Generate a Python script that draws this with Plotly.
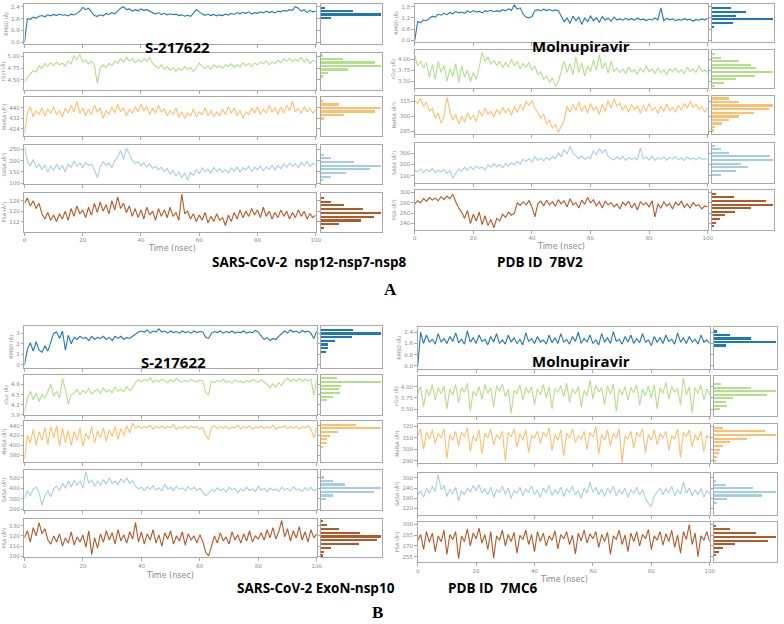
import numpy as np
import plotly.graph_objects as go

# ---------------- data: time series (~1 per ns) ----------------
# Panel A, left  (S-217622, nsp12-nsp7-nsp8)
RMSD_A1 = [0.0, 1.6, 1.55, 1.7, 1.62, 1.75, 1.8, 1.72, 1.85, 1.78, 1.88, 1.8, 1.9, 1.82, 1.86, 1.78, 1.9, 1.84, 1.95, 2.1,
           2.35, 2.2, 2.3, 2.05, 1.8, 1.75, 1.85, 1.78, 1.95, 1.88, 2.0, 1.92, 2.1, 2.3, 2.4, 2.2, 2.25, 2.1, 2.2, 2.12,
           2.25, 2.15, 2.2, 2.1, 1.95, 1.9, 2.0, 1.88, 1.95, 1.85, 1.92, 1.86, 1.9, 1.8, 1.85, 1.76, 1.82, 1.75, 1.95, 2.2,
           2.05, 1.9, 1.82, 1.9, 1.8, 1.88, 1.78, 1.85, 1.8, 1.9, 1.83, 1.95, 1.88, 2.0, 1.92, 2.02, 1.95, 2.05, 1.9, 2.0,
           1.95, 2.05, 1.98, 2.1, 2.0, 2.08, 1.98, 2.1, 2.05, 2.15, 2.1, 2.2, 2.15, 2.4, 2.3, 2.1, 2.2, 2.0, 2.15, 2.05, 2.1]
RGYR_A1 = [4.45, 4.55, 4.62, 4.7, 4.66, 4.8, 4.74, 4.85, 4.78, 4.86, 4.8, 4.88, 4.82, 4.86, 4.79, 4.9, 4.84, 5.02, 4.92, 5.05,
           4.88, 4.92, 4.84, 4.9, 4.82, 4.42, 4.75, 4.82, 4.76, 4.85, 4.8, 4.9, 4.85, 4.95, 4.88, 4.98, 4.9, 4.95, 4.86, 4.93,
           4.88, 4.96, 4.9, 4.98, 4.85, 4.8, 4.74, 4.82, 4.72, 4.78, 4.7, 4.76, 4.68, 4.74, 4.7, 4.78, 4.72, 4.76, 4.68, 4.75,
           4.86, 4.78, 4.74, 4.8, 4.72, 4.82, 4.76, 4.8, 4.74, 4.82, 4.78, 4.84, 4.76, 4.82, 4.78, 4.86, 4.8, 4.85, 4.78, 4.86,
           4.82, 4.88, 4.84, 4.9, 4.82, 4.88, 4.84, 4.92, 4.86, 4.95, 4.9, 4.96, 4.88, 4.94, 4.9, 4.98, 4.88, 4.95, 4.85, 4.92, 4.88]
MOLSA_A1 = [420, 436, 441, 433, 438, 435, 440, 434, 439, 436, 441, 435, 438, 433, 440, 436, 442, 437, 445, 436,
            440, 434, 439, 435, 442, 437, 440, 432, 438, 435, 441, 436, 443, 437, 440, 434, 439, 436, 441, 437,
            443, 438, 441, 435, 440, 436, 442, 437, 439, 434, 438, 435, 440, 433, 437, 432, 436, 434, 439, 433,
            437, 435, 440, 434, 438, 433, 437, 434, 439, 435, 441, 436, 440, 434, 438, 432, 437, 435, 440, 436,
            441, 435, 439, 436, 442, 437, 440, 435, 441, 436, 442, 438, 445, 437, 440, 436, 441, 437, 440, 436, 439]
SASA_A1 = [262, 195, 178, 205, 170, 185, 160, 180, 150, 175, 158, 182, 162, 178, 150, 185, 170, 198, 175, 190,
           168, 192, 178, 185, 160, 125, 172, 195, 178, 190, 170, 200, 215, 245, 205, 255, 230, 200, 188, 195,
           178, 190, 172, 185, 165, 175, 160, 170, 152, 165, 140, 155, 132, 150, 125, 145, 115, 148, 135, 160,
           142, 168, 150, 162, 145, 170, 152, 165, 148, 160, 145, 168, 155, 172, 150, 168, 158, 175, 152, 170,
           160, 175, 155, 172, 162, 180, 160, 178, 165, 185, 170, 190, 175, 185, 170, 192, 178, 195, 175, 188, 180]
PSA_A1 = [126, 130, 124, 128, 122, 126, 118, 114, 119, 113, 117, 112, 118, 114, 120, 113, 122, 116, 124, 118,
          121, 115, 123, 117, 126, 119, 127, 120, 125, 118, 128, 121, 131, 122, 126, 119, 124, 116, 122, 115,
          121, 114, 123, 117, 120, 113, 122, 116, 121, 115, 123, 116, 119, 113, 133, 118, 120, 114, 118, 112,
          117, 113, 119, 111, 116, 112, 118, 113, 115, 109, 117, 112, 119, 114, 121, 115, 120, 116, 122, 117,
          121, 115, 123, 116, 120, 114, 119, 115, 121, 116, 120, 114, 119, 115, 121, 116, 120, 114, 118, 115, 117]

# Panel A, right (Molnupiravir, PDB 7BV2)
RMSD_A2 = [0.0, 1.0, 0.95, 1.1, 1.05, 1.2, 1.3, 1.25, 1.4, 1.35, 1.45, 1.38, 1.5, 1.42, 1.55, 1.48, 1.52, 1.45, 1.58, 1.5,
           1.6, 1.52, 1.56, 1.48, 1.6, 1.55, 1.62, 1.54, 1.6, 1.55, 1.65, 1.58, 1.7, 1.62, 1.9, 1.68, 1.75, 1.4, 1.25, 1.2,
           1.28, 1.6, 1.65, 1.58, 1.68, 1.6, 1.66, 1.58, 1.64, 1.6, 1.3, 1.0, 1.2, 0.9, 1.3, 1.05, 1.25, 0.85, 1.2, 1.0,
           1.3, 1.05, 1.22, 0.95, 1.28, 1.08, 1.2, 1.02, 1.25, 1.1, 1.15, 1.08, 1.18, 1.1, 1.16, 1.08, 1.2, 1.1, 1.15, 1.06,
           1.14, 1.08, 1.2, 1.1, 1.75, 1.05, 1.18, 1.1, 1.15, 1.05, 1.12, 1.08, 1.16, 1.1, 1.14, 1.02, 1.12, 1.08, 1.15, 1.1, 1.18]
RGYR_A2 = [4.08, 3.85, 3.95, 3.8, 3.92, 3.6, 3.88, 3.55, 3.95, 3.7, 3.85, 3.5, 3.78, 3.62, 3.9, 3.48, 3.85, 3.6, 3.75, 3.5,
           3.7, 3.55, 3.82, 4.15, 3.95, 4.05, 3.88, 3.98, 3.85, 3.95, 3.8, 3.92, 3.82, 4.0, 3.85, 3.95, 3.78, 3.9, 3.82, 3.92,
           3.75, 3.85, 3.65, 3.72, 3.55, 3.62, 3.48, 3.58, 3.39, 3.5, 3.72, 3.95, 3.7, 3.9, 3.65, 4.05, 3.7, 3.92, 3.62, 3.85,
           3.72, 3.98, 3.75, 4.1, 3.78, 3.92, 3.68, 3.95, 3.72, 3.8, 3.7, 3.78, 3.68, 3.82, 3.72, 3.76, 3.66, 3.8, 3.7, 3.85,
           3.72, 3.78, 3.68, 3.8, 3.7, 3.76, 3.66, 3.78, 3.72, 3.8, 3.7, 3.76, 3.68, 3.82, 3.72, 3.78, 3.7, 3.86, 3.72, 3.76, 3.7]
MOLSA_A2 = [316, 313, 318, 310, 314, 305, 308, 298, 303, 293, 300, 319, 305, 296, 302, 292, 300, 294, 303, 297,
            301, 295, 306, 300, 308, 302, 305, 299, 307, 302, 309, 303, 308, 301, 310, 304, 312, 306, 315, 311,
            316, 308, 304, 298, 302, 292, 296, 288, 292, 284, 290, 296, 310, 304, 312, 306, 314, 305, 311, 303,
            313, 306, 310, 302, 312, 305, 316, 308, 318, 310, 313, 306, 311, 304, 312, 307, 310, 303, 311, 305,
            313, 306, 309, 303, 310, 305, 312, 306, 309, 304, 311, 306, 313, 308, 315, 309, 312, 307, 310, 304, 309]
SASA_A2 = [150, 135, 160, 130, 155, 140, 165, 128, 150, 135, 158, 120, 145, 80, 120, 160, 140, 175, 150, 180,
           155, 185, 165, 178, 150, 195, 175, 205, 180, 200, 170, 210, 185, 215, 195, 225, 205, 245, 225, 250,
           220, 265, 235, 255, 230, 260, 240, 270, 250, 300, 270, 330, 290, 360, 300, 270, 250, 275, 245, 265,
           255, 320, 285, 340, 300, 330, 270, 255, 240, 265, 245, 270, 235, 260, 245, 255, 240, 345, 250, 265,
           240, 270, 235, 260, 245, 268, 238, 262, 248, 270, 240, 258, 235, 265, 245, 255, 238, 262, 245, 250, 248]
PSA_A2 = [278, 284, 280, 288, 283, 290, 285, 289, 284, 292, 286, 293, 288, 296, 282, 270, 262, 250, 265, 240,
          258, 245, 262, 238, 255, 236, 248, 232, 250, 245, 258, 252, 262, 256, 260, 280, 275, 282, 276, 284,
          272, 253, 278, 283, 274, 285, 276, 282, 273, 286, 278, 284, 272, 288, 276, 280, 270, 285, 277, 290,
          280, 286, 274, 282, 270, 283, 276, 280, 272, 278, 268, 281, 275, 283, 270, 279, 266, 282, 276, 280,
          272, 284, 253, 278, 270, 282, 274, 279, 268, 281, 275, 283, 271, 278, 270, 280, 274, 276, 268, 274, 272]

# Panel B, left (S-217622, ExoN-nsp10)
RMSD_B1 = [0.0, 1.5, 2.1, 1.3, 2.2, 1.4, 1.2, 1.8, 1.3, 2.1, 3.0, 3.1, 2.5, 3.2, 1.4, 2.8, 2.0,
           2.6, 2.4, 2.7, 2.5, 2.6, 2.3, 2.7, 2.4, 2.6, 2.5, 2.7, 2.4, 2.6, 2.3, 2.7, 2.5, 2.7, 2.4, 2.6, 2.5,
           2.7, 2.9, 3.1, 3.2,
           3.1, 3.3, 3.0, 3.2, 3.1, 3.4, 3.1, 3.2, 3.0, 3.2, 3.05, 3.15, 3.0, 3.2, 3.05, 3.15, 3.0, 3.2, 3.05, 3.15, 3.1,
           2.6, 2.5,
           3.0, 3.15, 3.05, 3.2, 3.0, 3.15, 3.05, 3.2, 3.0, 3.1, 3.05, 3.2, 3.0, 3.1, 3.05, 3.25, 3.1,
           2.7, 2.4, 2.6, 2.3, 2.5, 2.4, 2.7,
           3.0, 3.2, 3.0, 3.3, 3.1, 3.2, 3.0, 3.25, 3.1, 3.2, 3.0, 2.5, 3.2]
RGYR_B1 = [3.98, 4.4, 4.6, 4.35, 4.55, 4.3, 4.5, 4.4, 4.6, 4.8, 4.45, 4.6, 4.4, 4.98, 4.65, 4.22, 4.5,
           4.55, 4.65, 4.5, 4.62, 4.55, 4.68, 4.52, 4.6, 4.66, 4.54, 4.7, 4.58, 4.64, 4.55, 4.72, 4.6, 4.66, 4.58,
           4.74, 4.62, 4.7, 4.85, 4.95,
           4.88, 4.95, 4.9, 5.0, 4.86, 4.93, 4.88, 4.96, 4.9, 4.85, 4.94, 4.88, 4.98, 4.9, 4.86, 4.92, 4.88, 4.95,
           4.9, 4.87, 4.93, 4.9, 4.55, 4.5,
           4.9, 4.85, 4.92, 4.88, 4.95, 4.86, 4.9, 4.84, 4.93, 4.88, 4.9, 4.85, 4.92, 4.87, 4.95, 4.9, 4.86, 4.94, 4.88,
           4.8, 4.7, 4.82, 4.72, 4.85, 4.76,
           4.92, 4.98, 4.88, 4.95, 4.9, 4.97, 4.88, 4.96, 4.9, 4.95, 4.48, 4.95]
MOLSA_B1 = [372, 420, 405, 432, 400, 428, 410, 436, 402, 438, 415, 440, 398, 435, 405, 430,
            400, 428, 410, 435, 398, 425, 412, 438, 405, 430, 415, 436, 408, 432, 418, 438, 412, 434, 420, 440, 425, 445,
            435, 440, 434, 438, 436, 441, 433, 439, 435, 440, 434, 438, 436, 442, 433, 437, 435, 440, 434, 439, 436, 438,
            433, 437, 420, 412,
            436, 440, 434, 438, 435, 439, 433, 437, 436, 441, 434, 438, 435, 440, 433, 437, 436, 439, 434, 438, 435, 441,
            433, 437, 436, 440, 434, 438, 435, 439, 433, 438, 436, 440, 434, 415, 437]
SASA_B1 = [300, 380, 330, 395, 410, 360, 240, 330, 380, 320, 395,
           420, 380, 450, 400, 470, 410, 480, 430, 470, 400, 556, 450, 480, 420, 470, 430,
           480, 440, 500, 450, 470, 435, 490, 455, 500, 445, 470,
           420, 395, 410, 380, 415, 390, 425, 385, 405, 375, 440, 395, 410, 380, 420, 390, 405, 378, 415, 388, 410, 380, 400,
           360, 330, 355,
           390, 370, 405, 380, 395, 365, 410, 385, 400, 360, 395, 375, 410, 380, 395, 370, 420, 385, 400, 365, 405, 380,
           395, 370, 410, 385, 400, 375, 415, 385, 395, 370, 405, 380, 410, 375, 395]
PSA_B1 = [118, 125, 114, 128, 120, 133, 122, 127, 116,
          112, 120, 114, 122, 110, 118, 113, 124, 111, 119, 114, 121,
          109, 125, 102, 118, 108,
          122, 114, 125, 116, 123, 112, 126, 115, 121, 113, 124, 117, 133,
          114, 124, 112, 122, 116, 126, 113, 121, 110, 123, 117, 125, 112, 120, 115, 124, 111, 122, 116, 120, 113, 121, 115,
          104, 100.5,
          110, 120, 113, 123, 115, 119, 112, 124, 116, 121, 113, 122, 115, 125, 114, 120, 117, 123,
          116, 126, 118, 128, 117, 124, 135, 119, 127, 115, 125, 118, 129, 116, 124, 114, 126, 118, 122]

# Panel B, right (Molnupiravir, PDB 7MC6)
RMSD_B2 = [0.0, 2.4, 1.6, 2.2, 1.7, 1.9, 1.55, 2.3, 1.7, 1.95, 1.6, 2.1, 1.75, 2.35, 1.65, 1.9, 1.55, 2.5, 1.7, 2.0,
           1.6, 2.2, 1.75, 1.9, 1.5, 2.1, 1.7, 2.3, 1.6, 1.85, 1.55, 2.2, 1.7, 2.0, 1.6, 1.9, 1.5, 2.35, 1.75, 1.95,
           1.6, 2.1, 1.7, 1.85, 1.55, 2.2, 1.65, 2.0, 1.6, 2.3, 1.7, 1.9, 1.55, 2.1, 1.75, 2.4, 1.6, 1.95, 1.7, 2.2,
           1.6, 1.85, 1.5, 2.3, 1.7, 2.0, 1.6, 2.45, 1.75, 1.9, 1.55, 2.1, 1.7, 2.2, 1.6, 1.95, 1.65, 2.3, 1.7, 1.85,
           1.45, 2.1, 1.7, 2.0, 1.6, 2.2, 1.75, 1.9, 1.55, 2.35, 1.7, 2.0, 1.6, 2.1, 1.7, 1.9, 1.55, 2.2, 1.7, 1.85, 1.6]
RGYR_B2 = [3.85, 4.0, 3.55, 3.95, 3.8, 4.05, 3.7, 3.98, 3.85, 4.02, 3.5, 3.95, 3.82, 4.05, 3.65, 3.98, 3.88, 4.08, 3.45, 3.9,
           3.8, 4.0, 3.72, 4.05, 3.85, 3.98, 3.55, 4.02, 3.9, 4.06, 3.78, 3.95, 3.4, 3.92, 3.85, 4.04, 3.7, 3.98, 3.86, 4.0,
           3.6, 3.95, 3.82, 4.05, 3.75, 4.0, 3.5, 3.96, 3.88, 4.02, 3.78, 4.08, 3.65, 3.95, 3.85, 4.0, 3.55, 3.92, 3.8, 4.15,
           3.72, 4.04, 3.88, 3.98, 3.6, 4.02, 3.84, 4.06, 3.45, 3.95, 3.82, 4.0, 3.7, 3.98, 3.86, 4.04, 3.58, 3.95, 3.8, 4.02,
           3.75, 4.05, 3.5, 3.98, 3.85, 4.1, 3.72, 4.0, 3.88, 3.96, 3.6, 4.2, 3.82, 4.0, 3.42, 3.98, 3.85, 4.04, 3.7, 3.95, 3.82]
MOLSA_B2 = [312, 318, 300, 315, 309, 317, 305, 314, 310, 318, 292, 313, 308, 316, 303, 315, 311, 319, 298, 312,
            307, 317, 296, 314, 310, 318, 304, 313, 309, 316, 290, 315, 311, 318, 302, 314, 308, 317, 297, 312,
            310, 316, 305, 315, 311, 319, 299, 313, 308, 317, 294, 314, 310, 318, 306, 312, 309, 316, 300, 315,
            311, 320, 296, 313, 308, 317, 303, 314, 310, 318, 288, 312, 309, 316, 301, 315, 311, 318, 297, 313,
            308, 317, 304, 314, 310, 316, 299, 312, 309, 318, 293, 315, 311, 317, 302, 313, 308, 316, 298, 312, 310]
SASA_B2 = [200, 225, 185, 240, 210, 250, 220, 320, 230, 255, 190, 235, 205, 245, 165, 225, 200, 240, 215, 255,
           225, 260, 210, 235, 200, 245, 185, 230, 215, 250, 205, 240, 180, 225, 210, 245, 195, 235, 215, 250,
           200, 230, 185, 240, 210, 255, 195, 230, 205, 245, 190, 235, 215, 250, 200, 225, 180, 240, 210, 275,
           215, 245, 200, 235, 190, 240, 210, 250, 195, 230, 205, 240, 185, 228, 210, 245, 200, 232, 180, 150,
           133, 190, 215, 240, 200, 235, 210, 250, 195, 230, 205, 275, 210, 240, 195, 230, 200, 238, 185, 225, 205]
PSA_B2 = [278, 286, 265, 290, 275, 288, 262, 284, 276, 292, 258, 286, 279, 290, 252, 284, 276, 294, 270, 288,
          280, 295, 274, 286, 265, 290, 253, 284, 278, 292, 270, 286, 276, 289, 260, 285, 279, 292, 272, 286,
          262, 290, 276, 288, 270, 284, 278, 291, 266, 286, 280, 290, 272, 285, 259, 288, 277, 292, 274, 287,
          280, 290, 268, 286, 276, 289, 258, 284, 279, 292, 272, 285, 262, 288, 276, 290, 270, 286, 280, 293,
          265, 284, 278, 290, 271, 287, 276, 292, 268, 285, 260, 290, 279, 300, 272, 288, 255, 284, 278, 290, 276]

# ---------------- data: histogram bins (centre, count) ----------------
HC_A1 = [[2.34, 2.11, 1.88, 1.65],
         [5.03, 4.955, 4.88, 4.805, 4.73, 4.655, 4.58],
         [445.3, 442.6, 439.9, 437.2, 434.5, 431.8],
         [225, 209, 193, 177, 161, 145, 129, 113],
         [130.4, 127.5, 124.6, 121.7, 118.8, 115.9, 113.0, 110.1, 107.2]]
HN_A1 = [[12, 95, 177, 30],
         [5, 65, 160, 177, 80, 20, 3],
         [7, 54, 180, 162, 70, 10],
         [8, 30, 100, 178, 145, 75, 30, 5],
         [10, 30, 70, 125, 178, 158, 120, 55, 10]]
HC_A2 = [[1.74, 1.535, 1.33, 1.125, 0.92, 0.715],
         [4.124, 4.04, 3.96, 3.88, 3.80, 3.72, 3.64, 3.56, 3.48, 3.40],
         [317.7, 314.1, 310.5, 306.9, 303.3, 299.7, 296.1, 292.5, 288.9, 285.3],
         [365, 333, 301, 269, 237, 205, 173, 141, 109],
         [298, 291, 284, 277, 270, 263, 256, 249, 242, 235]]
HN_A2 = [[55, 102, 72, 180, 63, 5],
         [10, 27, 78, 115, 130, 178, 125, 70, 35, 10],
         [50, 78, 175, 165, 120, 78, 50, 30, 8, 6],
         [8, 25, 50, 170, 178, 85, 105, 70, 25],
         [12, 64, 157, 177, 115, 67, 37, 22, 12, 7]]
HC_B1 = [[3.34, 3.0, 2.655, 2.31, 1.965, 1.62, 1.275],
         [5.0, 4.89, 4.78, 4.67, 4.56, 4.45, 4.34],
         [441.2, 433.8, 426.4, 419.0, 411.6, 404.2, 396.8],
         [506, 472, 438, 404, 370, 336, 302],
         [134.5, 130.8, 127.1, 123.4, 119.7, 116.0, 112.3, 108.6, 104.9, 101.2]]
HN_B1 = [[96, 178, 93, 43, 21, 21, 16],
         [48, 178, 61, 55, 58, 36, 18],
         [103, 176, 51, 28, 18, 18, 6],
         [10, 37, 74, 180, 160, 37, 15],
         [5, 17, 54, 117, 180, 170, 115, 30, 8, 6]]
HC_B2 = [[2.47, 2.22, 1.97, 1.72, 1.47],
         [4.074, 3.992, 3.91, 3.828, 3.746, 3.664, 3.582, 3.50],
         [318.7, 315.5, 312.3, 309.1, 305.9, 302.7, 299.5, 296.3, 293.1, 289.9],
         [283, 261, 239.5, 218, 196.5, 175, 153],
         [298.8, 293.6, 288.4, 283.2, 278.0, 272.8, 267.6, 262.4, 257.2]]
HN_B2 = [[10, 45, 107, 177, 35],
         [20, 107, 177, 153, 55, 35, 37, 17],
         [25, 147, 177, 95, 45, 25, 17, 13, 10, 3],
         [5, 35, 113, 177, 137, 38, 10],
         [5, 47, 120, 177, 155, 60, 25, 15, 7]]

# ---------------- tick labels ----------------
YT_A1 = [[0.0, 0.8, 1.6, 2.4], [4.50, 4.75, 5.00], [424, 432, 440], [100, 150, 200, 250], [112, 120, 128]]
YL_A1 = [["0.0", "0.8", "1.6", "2.4"], ["4.50", "4.75", "5.00"], ["424", "432", "440"], ["100", "150", "200", "250"], ["112", "120", "128"]]
YT_A2 = [[0.0, 0.6, 1.2, 1.8], [3.50, 3.75, 4.00], [285, 300, 315], [100, 200, 300], [240, 260, 280, 300]]
YL_A2 = [["0.0", "0.6", "1.2", "1.8"], ["3.50", "3.75", "4.00"], ["285", "300", "315"], ["100", "200", "300"], ["240", "260", "280", "300"]]
YT_B1 = [[0, 1, 2, 3], [3.9, 4.2, 4.5, 4.8], [380, 400, 420, 440], [200, 300, 400, 500], [100, 110, 120, 130]]
YL_B1 = [["0", "1", "2", "3"], ["3.9", "4.2", "4.5", "4.8"], ["380", "400", "420", "440"], ["200", "300", "400", "500"], ["100", "110", "120", "130"]]
YT_B2 = [[0.0, 0.8, 1.6, 2.4], [3.50, 3.75, 4.00], [290, 300, 310, 320], [120, 180, 240, 300], [255, 270, 285, 300]]
YL_B2 = [["0.0", "0.8", "1.6", "2.4"], ["3.50", "3.75", "4.00"], ["290", "300", "310", "320"], ["120", "180", "240", "300"], ["255", "270", "285", "300"]]
XTICKS = [0, 20, 40, 60, 80, 100]
YTITLES = ["RMSD (Å)", "rGyr (Å)", "MolSA (Å²)", "SASA (Å²)", "PSA (Å²)"]

# ---------------- layout / style ----------------
W, H = 784, 624
COLORS = ["#1f78b4", "#b2df8a", "#fdbf6f", "#a6cee3", "#b15928"]
AXC = "#a8a8a8"
TKC = "#8a8a8a"


def fx(px):
    return px / W


def fy(py):
    return 1 - py / H


panels = [
    dict(series=[RMSD_A1, RGYR_A1, MOLSA_A1, SASA_A1, PSA_A1], hc=HC_A1, hn=HN_A1, yt=YT_A1, yl=YL_A1,
         ranges=[[-0.09, 2.58], [4.27, 5.08], [418.4, 448.1], [98, 268], [104.4, 134.1]],
         main=(22.7, 317), hist=(322, 384),
         rows=[(3, 43), (52, 90), (97, 136), (145, 184), (193, 232)]),
    dict(series=[RMSD_A2, RGYR_A2, MOLSA_A2, SASA_A2, PSA_A2], hc=HC_A2, hn=HN_A2, yt=YT_A2, yl=YL_A2,
         ranges=[[-0.09, 1.96], [3.345, 4.21], [282, 320], [39, 387], [228.5, 305]],
         main=(417, 713), hist=(717, 780),
         rows=[(3, 41), (49, 88), (96, 134), (143, 183), (190, 230)]),
    dict(series=[RMSD_B1, RGYR_B1, MOLSA_B1, SASA_B1, PSA_B1], hc=HC_B1, hn=HN_B1, yt=YT_B1, yl=YL_B1,
         ranges=[[-0.25, 3.68], [3.89, 5.09], [366, 449], [198, 574], [99, 136.8]],
         main=(22.7, 318), hist=(322, 384),
         rows=[(327, 369), (376, 417), (423, 464), (472, 512), (521, 560)]),
    dict(series=[RMSD_B2, RGYR_B2, MOLSA_B2, SASA_B2, PSA_B2], hc=HC_B2, hn=HN_B2, yt=YT_B2, yl=YL_B2,
         ranges=[[-0.19, 2.78], [3.337, 4.25], [288, 322], [83, 329], [247, 304]],
         main=(420, 715), hist=(719, 783),
         rows=[(328, 370), (377, 418), (426, 465), (475, 517), (524, 565)]),
]

fig = go.Figure()
lay = {}
k = 1


def ax_name(prefix, n):
    return prefix if n == 1 else f"{prefix}{n}"


for p in panels:
    for i in range(5):
        vals = p["series"][i]
        t = np.linspace(0, 100, len(vals))
        r0, r1 = p["rows"][i]
        ydom = [fy(r1), fy(r0)]
        last = (i == 4)
        # main time-series axis
        fig.add_trace(go.Scatter(x=t, y=vals, mode="lines", line=dict(color=COLORS[i], width=1.1),
                                 xaxis=ax_name("x", k), yaxis=ax_name("y", k), showlegend=False,
                                 hoverinfo="skip"))
        lay[f"xaxis{k}"] = dict(domain=[fx(p["main"][0]), fx(p["main"][1])], anchor=ax_name("y", k),
                                range=[0, 100], tickvals=XTICKS, ticks="outside", ticklen=3, tickwidth=1,
                                tickcolor=AXC, showticklabels=last, tickfont=dict(size=5.5, color=TKC),
                                showline=True, linecolor=AXC, linewidth=1, mirror=True,
                                showgrid=False, zeroline=False)
        lay[f"yaxis{k}"] = dict(domain=ydom, anchor=ax_name("x", k), range=p["ranges"][i],
                                tickvals=p["yt"][i], ticktext=p["yl"][i], ticks="outside", ticklen=2.5,
                                tickwidth=1, tickcolor=AXC, tickfont=dict(size=5.5, color=TKC),
                                title=dict(text=YTITLES[i], font=dict(size=5, color=TKC), standoff=2),
                                showline=True, linecolor=AXC, linewidth=1, mirror=True,
                                showgrid=False, zeroline=False)
        k += 1
        # histogram axis
        hc = p["hc"][i]
        hn = p["hn"][i]
        bw = 0.55 * abs(hc[0] - hc[1])
        fig.add_trace(go.Bar(y=hc, x=hn, orientation="h", width=bw,
                             marker=dict(color=COLORS[i], line=dict(width=0)),
                             xaxis=ax_name("x", k), yaxis=ax_name("y", k), showlegend=False,
                             hoverinfo="skip"))
        lay[f"xaxis{k}"] = dict(domain=[fx(p["hist"][0]), fx(p["hist"][1])], anchor=ax_name("y", k),
                                range=[0, max(hn) * 1.03], showticklabels=False, ticks="",
                                showline=True, linecolor=AXC, linewidth=1, mirror=True,
                                showgrid=False, zeroline=False)
        lay[f"yaxis{k}"] = dict(domain=ydom, anchor=ax_name("x", k), range=p["ranges"][i],
                                tickvals=p["yt"][i], ticks="outside", ticklen=2.5, tickwidth=1,
                                tickcolor=AXC, showticklabels=False,
                                showline=True, linecolor=AXC, linewidth=1, mirror=True,
                                showgrid=False, zeroline=False)
        k += 1

BOLD = "Open Sans"
annotations = []


def ann(text, x, y, size, color="black", family=BOLD, xanchor="center"):
    annotations.append(dict(text=text, x=fx(x), y=fy(y), xref="paper", yref="paper",
                            xanchor=xanchor, yanchor="middle", showarrow=False,
                            font=dict(size=size, color=color, family=family)))


ann("<b>S-217622</b>", 177, 46, 15)
ann("<b>Molnupiravir</b>", 585, 45, 15)
ann("<b>S-217622</b>", 173, 363, 15)
ann("<b>Molnupiravir</b>", 585, 362, 15)
ann("<b>SARS-CoV-2\u00a0 nsp12-nsp7-nsp8</b>", 210, 263, 13.5, xanchor="left")
ann("<b>PDB\u00a0ID\u00a0 7BV2</b>", 498, 263, 13.5, xanchor="left")
ann("<b>SARS-CoV-2 ExoN-nsp10</b>", 235, 591, 13.5, xanchor="left")
ann("<b>PDB\u00a0ID\u00a0 7MC6</b>", 449, 591, 13.5, xanchor="left")
ann("<b>A</b>", 393, 290, 17, family="Liberation Serif")
ann("<b>B</b>", 379, 615, 17, family="Liberation Serif")
ann("Time (nsec)", 172, 249, 8, color=TKC, family="DejaVu Sans")
ann("Time (nsec)", 565, 247, 8, color=TKC, family="DejaVu Sans")
ann("Time (nsec)", 170, 578, 8, color=TKC, family="DejaVu Sans")
ann("Time (nsec)", 568, 582, 8, color=TKC, family="DejaVu Sans")

fig.update_layout(width=W, height=H, autosize=False, margin=dict(l=0, r=0, t=0, b=0, pad=0),
                  paper_bgcolor="white", plot_bgcolor="white", bargap=0,
                  font=dict(family="DejaVu Sans", size=6, color=TKC),
                  annotations=annotations, **lay)

fig.write_html("out.html", config={"displayModeBar": False},
               post_script="document.body.style.margin='0';document.body.style.overflow='hidden';"
                           "document.documentElement.style.overflow='hidden';")
